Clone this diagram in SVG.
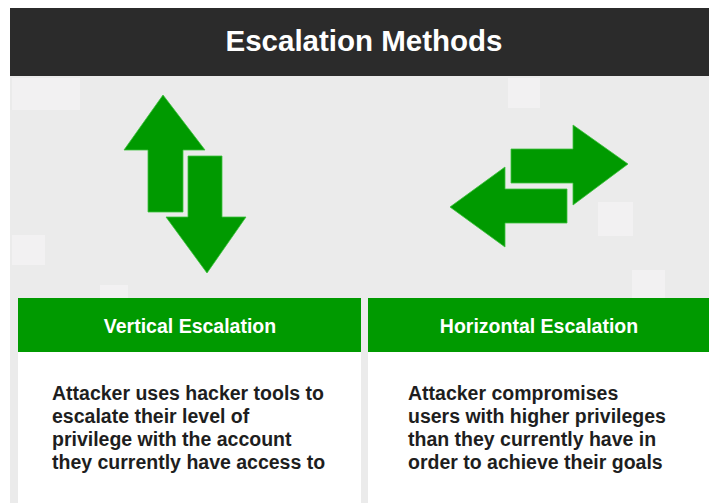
<svg xmlns="http://www.w3.org/2000/svg" width="709" height="503" viewBox="0 0 709 503">
<style>
.title{font-family:"Liberation Sans",Arial,sans-serif;font-weight:bold;font-size:29.5px;fill:#ffffff}
.hdr{font-family:"Liberation Sans",Arial,sans-serif;font-weight:bold;font-size:19.5px;fill:#ffffff}
.body{font-family:"Liberation Sans",Arial,sans-serif;font-weight:bold;font-size:19.5px;fill:#1e1e1e}
.arrow{fill:#009a00;stroke:#3cc03c;stroke-width:0.8}
.deco{fill:#f2f1f2}
.green{fill:#009a00}
.card{fill:#ffffff}
</style>
<rect x="0" y="0" width="709" height="503" fill="#ffffff"/>
<rect x="10" y="76" width="699" height="427" fill="#ebebeb"/>
<g id="decor">
<rect class="deco" x="12" y="78" width="68" height="32"/>
<rect class="deco" x="508" y="78" width="32" height="30"/>
<rect class="deco" x="12" y="235" width="33" height="30"/>
<rect class="deco" x="598" y="202" width="35" height="34"/>
<rect class="deco" x="632" y="270" width="33" height="28"/>
<rect class="deco" x="100" y="285" width="28" height="13"/>
</g>
<g id="header">
<rect x="10" y="8" width="699" height="68" fill="#2b2b2b"/>
<text class="title" x="364" y="51" text-anchor="middle">Escalation Methods</text>
</g>
<g id="vertical-icon">
<polygon class="arrow" points="163,95 205,150 183,150 183,212 148,212 148,150 124,150"/>
<polygon class="arrow" points="188,156 222,156 222,217 246,217 207,273 166,217 188,217"/>
</g>
<g id="horizontal-icon">
<polygon class="arrow" points="511,149 573,149 573,125 628,164 573,205 573,183 511,183"/>
<polygon class="arrow" points="567,189 567,223 505,223 505,247 450,207 505,167 505,189"/>
</g>
<g id="vertical-escalation">
<rect class="green" x="18" y="298" width="343" height="54"/>
<rect class="card" x="18" y="352" width="343" height="151"/>
<text class="hdr" x="190" y="333" text-anchor="middle">Vertical Escalation</text>
<text class="body" x="52" y="400">Attacker uses hacker tools to</text>
<text class="body" x="52" y="423">escalate their level of</text>
<text class="body" x="52" y="446">privilege with the account</text>
<text class="body" x="52" y="469">they currently have access to</text>
</g>
<g id="horizontal-escalation">
<rect class="green" x="368" y="298" width="341" height="54"/>
<rect class="card" x="368" y="352" width="341" height="151"/>
<text class="hdr" x="539" y="333" text-anchor="middle">Horizontal Escalation</text>
<text class="body" x="408" y="400">Attacker compromises</text>
<text class="body" x="408" y="423">users with higher privileges</text>
<text class="body" x="408" y="446">than they currently have in</text>
<text class="body" x="408" y="469">order to achieve their goals</text>
</g>
<g id="connectors"></g>
</svg>
